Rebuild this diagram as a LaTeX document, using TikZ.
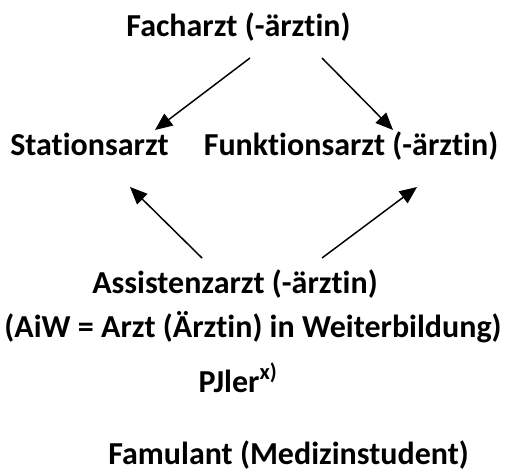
\documentclass[tikz,border=0pt]{standalone}
\usepackage{fontspec}
\setmainfont{Carlito}[Ligatures=NoCommon]
\usepackage{tikz}
\usetikzlibrary{arrows.meta,calc,positioning}
\tikzstyle{rank}  =[anchor=base, inner sep=0pt,
                    font=\fontsize{24}{28}\selectfont\bfseries]
\tikzstyle{edge}  =[-{Triangle[length=13pt,width=11pt]},
                    line width=1.1pt]

\begin{document}
\begin{tikzpicture}[x=0.75pt,y=-0.75pt]
    \useasboundingbox (0,0) rectangle (510,472);

    \draw (238.5,36) node (fach) [rank] {Facharzt (-ärztin)};
    \draw (89.5,155) node (stat) [rank] {Stationsarzt};
    \draw (351,155) node (funk) [rank] {Funktionsarzt (-ärztin)};
    \draw (235,293) node (assi) [rank] {Assistenzarzt (-ärztin)};
    \draw (253,337) node (aiw) [rank] {(AiW = Arzt (Ärztin) in Weiterbildung)};
    \draw (238,392) node (pj) [rank] {PJler\textsuperscript{x)}};
    \draw (288.5,464) node (famu) [rank] {Famulant (Medizinstudent)};

    \draw [edge] ($(fach.base)+(11.5,22)$) to ($(stat.base)+(65.5,-25)$);
    \draw [edge] ($(fach.base)+(83.5,22)$) to ($(funk.base)+(42,-25)$);
    \draw [edge] ($(assi.base)+(-33,-35)$) to ($(stat.base)+(40.5,32)$);
    \draw [edge] ($(assi.base)+(87,-35)$) to ($(funk.base)+(66,32)$);

\end{tikzpicture}
\end{document}
